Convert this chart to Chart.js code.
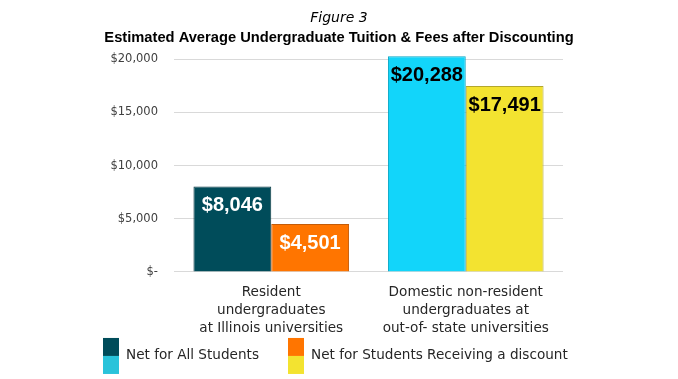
<!DOCTYPE html>
<html><head><meta charset="utf-8">
<script src="https://cdn.jsdelivr.net/npm/chart.js@4.4.0/dist/chart.umd.min.js"></script>
<style>html,body{margin:0;padding:0;background:#fff}#wrap{width:678px;height:379px}</style>
</head><body><div id="wrap"><canvas id="c" width="678" height="379"></canvas></div>
<script>
const titleText = "Figure 3";
const subtitleText = "Estimated Average Undergraduate Tuition & Fees after Discounting";
const categories = [["Resident","undergraduates","at Illinois universities"],["Domestic non-resident","undergraduates at","out-of- state universities"]];
const seriesNames = ["Net for All Students","Net for Students Receiving a discount"];
const netAll = [8046, 20288];
const netDiscount = [4501, 17491];
const yTicks = [0, 5000, 10000, 15000, 20000];

const fillAll = ["#004c5a", "#12d5fa"];
const borderAll = ["#0b3b45", "#0aa6c4"];
const fillDisc = ["#ff7500", "#f3e330"];
const borderDisc = ["#c45c08", "#b3a72c"];
const labelColors = [["#ffffff","#000000"],["#ffffff","#000000"]];
const legendColors = [["#004c5a","#29c3da"],["#ff7500","#f3e330"]];

const fmt = v => v === 0 ? "$-" : "$" + v.toLocaleString("en-US");

const titles = {
  id: "titles",
  afterDraw(chart) {
    const ctx = chart.ctx;
    ctx.save();
    ctx.textAlign = "center";
    ctx.textBaseline = "middle";
    ctx.fillStyle = "#000";
    ctx.font = "italic 14px 'DejaVu Sans'";
    ctx.fillText(titleText, chart.width / 2, 18);
    ctx.font = "bold 14.7px 'Liberation Sans'";
    ctx.fillText(subtitleText, chart.width / 2, 38);
    ctx.restore();
  }
};

const dataLabels = {
  id: "dataLabels",
  afterDatasetsDraw(chart) {
    const ctx = chart.ctx;
    ctx.save();
    ctx.font = "bold 20px 'Liberation Sans'";
    ctx.textAlign = "center";
    ctx.textBaseline = "middle";
    chart.data.datasets.forEach((ds, di) => {
      chart.getDatasetMeta(di).data.forEach((bar, i) => {
        ctx.fillStyle = labelColors[di][i];
        ctx.fillText(fmt(ds.data[i]), bar.x, bar.y + 19);
      });
    });
    ctx.restore();
  }
};

const customLegend = {
  id: "customLegend",
  afterDraw(chart) {
    const ctx = chart.ctx;
    ctx.save();
    const top = chart.chartArea.bottom + 66;
    const xs = [103, 288];
    ctx.font = "13.6px 'DejaVu Sans'";
    ctx.textBaseline = "middle";
    ctx.textAlign = "left";
    seriesNames.forEach((name, k) => {
      ctx.fillStyle = legendColors[k][0];
      ctx.fillRect(xs[k], top, 16, 18);
      ctx.fillStyle = legendColors[k][1];
      ctx.fillRect(xs[k], top + 18, 16, 18);
      ctx.fillStyle = "#262626";
      ctx.fillText(name, xs[k] + 23, top + 18);
    });
    ctx.restore();
  }
};

new Chart(document.getElementById("c"), {
  type: "bar",
  data: {
    labels: categories,
    datasets: [
      { label: seriesNames[0], data: netAll, backgroundColor: fillAll, borderColor: borderAll, borderWidth: 1 },
      { label: seriesNames[1], data: netDiscount, backgroundColor: fillDisc, borderColor: borderDisc, borderWidth: 1 }
    ]
  },
  options: {
    responsive: false,
    animation: false,
    devicePixelRatio: 1,
    layout: { padding: { left: 0, right: 115, top: 54, bottom: 38 } },
    datasets: { bar: { categoryPercentage: 0.8, barPercentage: 1.0 } },
    scales: {
      x: {
        grid: { display: false },
        border: { display: false },
        ticks: { color: "#262626", font: { family: "'DejaVu Sans'", size: 13.6, lineHeight: 1.3 }, padding: 4, maxRotation: 0, autoSkip: false }
      },
      y: {
        min: 0, max: 20500,
        afterBuildTicks(scale) { scale.ticks = yTicks.map(v => ({ value: v })); },
        afterFit(scale) { scale.width = 174; },
        grid: { color: "#d9d9d9", drawTicks: false, lineWidth: 1 },
        border: { display: false },
        ticks: { color: "#404040", font: { family: "'DejaVu Sans'", size: 11.5 }, padding: 16, callback: v => fmt(v) }
      }
    },
    plugins: {
      legend: { display: false },
      tooltip: { enabled: false },
      title: { display: false },
      subtitle: { display: false }
    }
  },
  plugins: [dataLabels, customLegend, titles]
});
</script></body></html>
